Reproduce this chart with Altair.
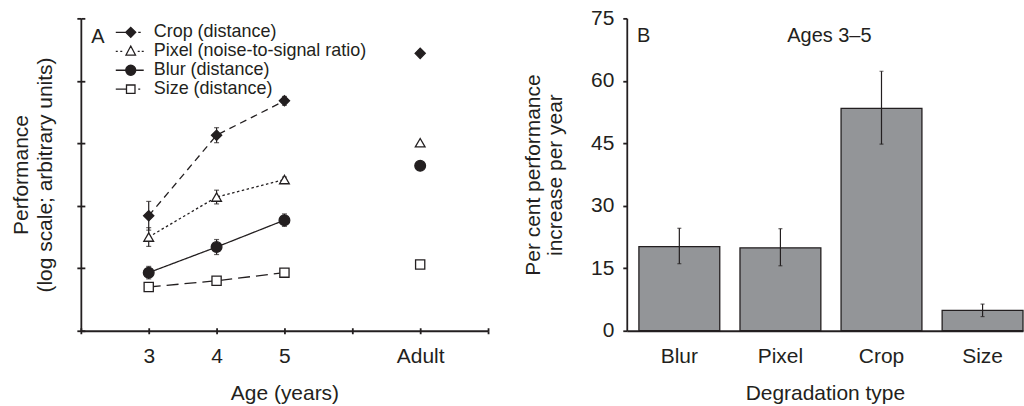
import altair as alt
import pandas as pd

FONT = "Liberation Sans"
INK = "#231f20"

# ---------------- Panel A data ----------------
series_names = ["Crop (distance)", "Pixel (noise-to-signal ratio)", "Blur (distance)", "Size (distance)"]
age_positions = [3, 4, 5, 7]          # 7 = "Adult" slot on the axis
crop_vals = [1.84, 3.13, 3.68, 4.44]
crop_err = [0.23, 0.12, 0.07, 0.0]
pixel_vals = [1.50, 2.14, 2.42, 3.01]
pixel_err = [0.15, 0.11, 0.04, 0.0]
blur_vals = [0.93, 1.34, 1.77, 2.64]
blur_err = [0.10, 0.12, 0.10, 0.0]
size_vals = [0.70, 0.80, 0.93, 1.06]
size_err = [0.0, 0.0, 0.0, 0.0]
y_ticks_a = [0, 1, 2, 3, 4, 5]
x_ticks_a = [2, 3, 4, 5, 6, 7, 8]

# ---------------- Panel B data ----------------
categories = ["Blur", "Pixel", "Crop", "Size"]
increase = [20.2, 19.9, 53.4, 4.9]
increase_lo = [16.1, 15.6, 44.8, 3.4]
increase_hi = [24.6, 24.5, 62.3, 6.4]
y_ticks_b = [0, 15, 30, 45, 60, 75]

rows = []
for name, vals, errs in zip(series_names,
                            [crop_vals, pixel_vals, blur_vals, size_vals],
                            [crop_err, pixel_err, blur_err, size_err]):
    for a, v, e in zip(age_positions, vals, errs):
        rows.append({"series": name, "age": a, "value": v, "err": e})
dfA = pd.DataFrame(rows)
dfB = pd.DataFrame({"cat": categories, "val": increase, "lo": increase_lo, "hi": increase_hi})
dfLeg = pd.DataFrame({"series": series_names})

WA, HA = 408, 313
WB, HB = 397, 313

dash_range = [[7, 5], [2.5, 2.5], [1, 0], [12, 6]]
shape_list = ["diamond", "triangle-up", "circle", "square"]
fill_range = [INK, "white", INK, "white"]
size_list = [105, 95, 115, 85]
legend_paths = [
    "M-3,0L-0.9,0M0,-1L1,0L0,1L-1,0ZM1.5,0L2,0",
    "M-3,0L-2.6,0M-2.1,0L-1.7,0M0,-1.05L0.95,0.75L-0.95,0.75ZM1.4,0L1.8,0M2.2,0L2.6,0",
    "M-3,0L-1,0M1,0L2.6,0M-1,0A1,1 0 1,0 1,0A1,1 0 1,0 -1,0Z",
    "M-3,0L-0.85,0M-0.85,-0.85L0.85,-0.85L0.85,0.85L-0.85,0.85ZM1.5,0L1.9,0",
]

xscale_a = alt.Scale(domain=[2, 8], nice=False, zero=False)
yscale_a = alt.Scale(domain=[0, 5], nice=False, zero=False)


def xa(axis=None, field="age:Q"):
    return alt.X(field, scale=xscale_a, axis=axis)


def ya(field="value:Q", axis=None):
    return alt.Y(field, scale=yscale_a, axis=axis)


main_x_axis = alt.Axis(values=x_ticks_a, title="Age (years)", grid=False, tickSize=3,
                       labelExpr="datum.value == 7 ? 'Adult' : ((datum.value >= 3 && datum.value <= 5) ? datum.label : '')",
                       labelPadding=12, titlePadding=16)
main_y_axis = alt.Axis(values=y_ticks_a, labels=False, grid=False, tickSize=4,
                       title=["Performance", "(log scale; arbitrary units)"],
                       titlePadding=20, titleLineHeight=25)
inner_x_axis = alt.Axis(values=x_ticks_a, orient="top", offset=-HA, labels=False, domain=False,
                        grid=False, tickSize=3, title=None)
inner_y_axis = alt.Axis(values=y_ticks_a, orient="right", offset=-WA, labels=False, domain=False,
                        grid=False, tickSize=4, title=None)

base = alt.Chart(dfA)

lines = base.transform_filter("datum.age <= 5").mark_line(strokeWidth=1.3, color=INK).encode(
    x=xa(inner_x_axis),
    y=ya(axis=inner_y_axis),
    strokeDash=alt.StrokeDash("series:N", scale=alt.Scale(domain=series_names, range=dash_range), legend=None),
    detail="series:N",
)

errs = base.transform_filter("datum.err > 0").transform_calculate(
    lo="datum.value - datum.err", hi="datum.value + datum.err")

err_rules = errs.mark_rule(strokeWidth=1.2, color=INK).encode(
    x=xa(), y=ya("lo:Q"), y2="hi:Q")

err_caps = errs.transform_fold(["lo", "hi"], as_=["end", "pos"]).mark_tick(
    thickness=1.2, size=5, color=INK, orient="horizontal").encode(
    x=xa(), y=ya("pos:Q"))

point_layers = []
for i, (name, shp, fl, sz) in enumerate(zip(series_names, shape_list, fill_range, size_list)):
    enc_x = xa(main_x_axis) if i == 0 else xa()
    enc_y = ya(axis=main_y_axis) if i == 0 else ya()
    point_layers.append(
        base.transform_filter(alt.datum.series == name).mark_point(
            shape=shp, filled=True, fill=fl, stroke=INK, strokeWidth=1.3, size=sz, opacity=1
        ).encode(x=enc_x, y=enc_y)
    )

# hand-built legend (symbols with line samples + labels)
leg_y = alt.Y("series:N", scale=alt.Scale(type="point", domain=series_names, range=[14, 71], padding=0),
              axis=None)
leg_symbols = alt.Chart(dfLeg).mark_point(filled=True, stroke=INK, strokeWidth=1.3, size=100, opacity=1).encode(
    x=alt.value(50),
    y=leg_y,
    shape=alt.Shape("series:N", scale=alt.Scale(domain=series_names, range=legend_paths), legend=None),
    fill=alt.Fill("series:N", scale=alt.Scale(domain=series_names, range=fill_range), legend=None),
)
leg_labels = alt.Chart(dfLeg).mark_text(font=FONT, fontSize=18, color=INK, align="left",
                                        baseline="middle").encode(
    x=alt.value(73), y=leg_y, text="series:N")

label_a = alt.Chart(pd.DataFrame({"t": ["A"]})).mark_text(
    font=FONT, fontSize=20, color=INK, align="center", baseline="middle").encode(
    x=alt.value(17), y=alt.value(19), text="t:N")

panelA = alt.layer(lines, err_rules, err_caps, *point_layers, leg_symbols, leg_labels, label_a).resolve_scale(
    y="independent").resolve_axis(x="independent", y="independent").properties(width=WA, height=HA)

# ---------------- Panel B ----------------
xb = alt.X("cat:N", sort=categories, title="Degradation type",
           scale=alt.Scale(paddingInner=0.2, paddingOuter=0.06, align=1),
           axis=alt.Axis(labelAngle=0, ticks=False, labelPadding=15, titlePadding=16))
yb_scale = alt.Scale(domain=[0, 75], nice=False)

bars = alt.Chart(dfB).mark_bar(color="#939598", stroke=INK, strokeWidth=1.3).encode(
    x=xb,
    y=alt.Y("val:Q", scale=yb_scale,
            axis=alt.Axis(values=y_ticks_b, grid=False, tickSize=4, labelPadding=9,
                          title=["Per cent performance", "increase per year"],
                          titlePadding=25, titleLineHeight=22)),
)
b_rules = alt.Chart(dfB).mark_rule(strokeWidth=1.2, color=INK).encode(
    x=alt.X("cat:N", sort=categories), y=alt.Y("lo:Q", scale=yb_scale), y2="hi:Q")
b_caps = alt.Chart(dfB).transform_fold(["lo", "hi"], as_=["end", "pos"]).mark_tick(
    thickness=1.2, size=4, color=INK, orient="horizontal").encode(
    x=alt.X("cat:N", sort=categories), y=alt.Y("pos:Q", scale=yb_scale))
b_text = alt.Chart(pd.DataFrame({"t": ["B", "Ages 3–5"], "px": [17, 203]})).mark_text(
    font=FONT, fontSize=20, color=INK, align="center", baseline="middle").encode(
    x=alt.X("px:Q", scale=None), y=alt.value(18), text="t:N")

panelB = alt.layer(bars, b_rules, b_caps, b_text).properties(width=WB, height=HB)

chart = alt.hconcat(panelA, panelB, spacing=139, bounds="flush").properties(
    padding={"left": 10, "top": 7, "right": 0, "bottom": 0}
).configure_view(stroke=None).configure_axis(
    labelFont=FONT, titleFont=FONT, labelFontSize=21, titleFontSize=21,
    labelColor=INK, titleColor=INK, titleFontWeight="normal",
    domainColor=INK, tickColor=INK, domainWidth=1.8, tickWidth=1.8,
).configure_text(font=FONT)

chart.save("out.html", embed_options={"renderer": "svg", "actions": False})
